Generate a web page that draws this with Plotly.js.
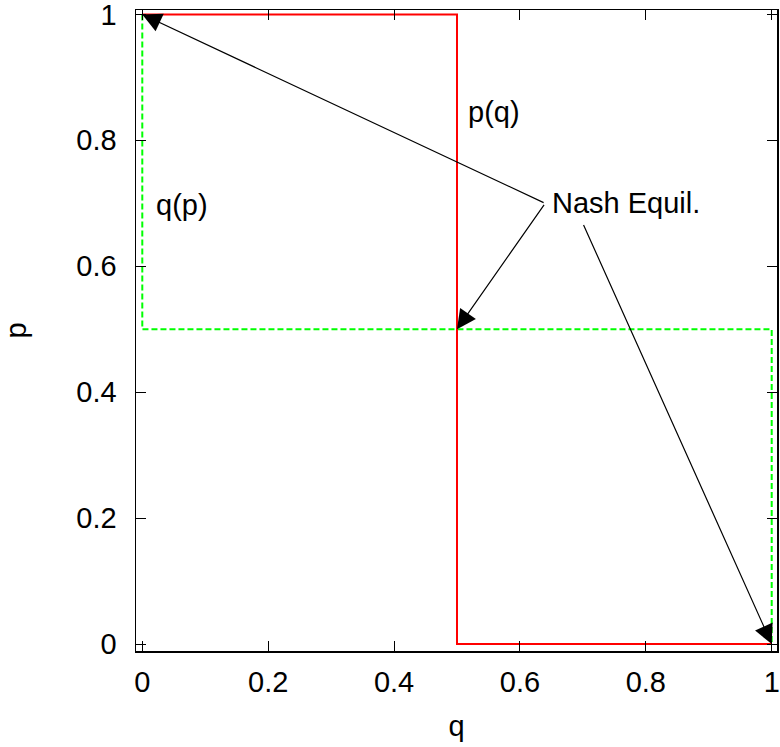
<!DOCTYPE html>
<html>
<head>
<meta charset="utf-8">
<script src="https://cdn.plot.ly/plotly-3.0.1.min.js"></script>
<style>
  html, body { margin: 0; padding: 0; background: #ffffff; }
  #chart { width: 780px; height: 747px; }
</style>
</head>
<body>
<div id="chart"></div>
<script>
// Best response p(q) (red, solid)
const pqQ = [0, 0.5, 0.5, 1];
const pqP = [1, 1, 0, 0];
// Best response q(p) (green, dashed)
const qpQ = [0, 0, 1, 1];
const qpP = [1, 0.5, 0.5, 0];

// Tick values / labels
const xTickVals = [0, 0.2, 0.4, 0.6, 0.8, 1];
const xTickText = ['0', '0.2', '0.4', '0.6', '0.8', '1'];
const yTickVals = [0, 0.2, 0.4, 0.6, 0.8, 1];
const yTickText = ['0', '0.2', '0.4', '0.6', '0.8', '1'];

// Text labels
const labelText = ['p(q)', 'q(p)', 'Nash Equil.'];
const labelX = [0.515, 0.018, 0.647];
const labelY = [0.845, 0.697, 0.700];

// Nash equilibrium arrows: tail -> tip
const arrowTailX = [0.64, 0.64, 0.70];
const arrowTailY = [0.70, 0.70, 0.668];
const arrowTipX = [0, 0.5, 1];
const arrowTipY = [1, 0.5, 0];

const FONT = 'Liberation Sans, Arial, Helvetica, sans-serif';
const FS = 29;

const traces = [
  {
    x: qpQ, y: qpP, type: 'scatter', mode: 'lines', name: 'q(p)',
    line: { color: '#00ff00', width: 2, dash: '6px,3px', shape: 'linear' },
    hoverinfo: 'skip'
  },
  {
    x: pqQ, y: pqP, type: 'scatter', mode: 'lines', name: 'p(q)',
    line: { color: '#ff0000', width: 2, shape: 'linear' },
    hoverinfo: 'skip'
  }
];

const annotations = [];
for (let i = 0; i < labelText.length; i++) {
  annotations.push({
    x: labelX[i], y: labelY[i], xref: 'x', yref: 'y',
    text: labelText[i], showarrow: false,
    xanchor: 'left', yanchor: 'middle',
    font: { family: FONT, size: FS, color: '#000000' }
  });
}
for (let i = 0; i < arrowTipX.length; i++) {
  annotations.push({
    x: arrowTipX[i], y: arrowTipY[i], xref: 'x', yref: 'y',
    ax: arrowTailX[i], ay: arrowTailY[i], axref: 'x', ayref: 'y',
    text: '', showarrow: true,
    arrowhead: 2, arrowsize: 3.2, arrowwidth: 1.2, arrowcolor: '#000000',
    standoff: 0, startstandoff: 0
  });
}

const axisCommon = {
  showgrid: false, zeroline: false,
  showline: true, linecolor: '#000000', linewidth: 1.5, mirror: 'ticks',
  ticks: 'inside', ticklen: 10, tickwidth: 1, tickcolor: '#000000',
  tickfont: { family: FONT, size: FS, color: '#000000' },
  tickmode: 'array',
  ticklabeloverflow: 'allow',
  automargin: false
};

const layout = {
  width: 780, height: 747,
  margin: { l: 136, r: 3, t: 10, b: 96, pad: 0 },
  paper_bgcolor: '#ffffff', plot_bgcolor: '#ffffff',
  showlegend: false,
  font: { family: FONT, size: FS, color: '#000000' },
  xaxis: Object.assign({}, axisCommon, {
    range: [-0.010, 1.0084],
    tickvals: xTickVals, ticktext: xTickText,
    ticklabelstandoff: 5,
    title: { text: 'q', font: { family: FONT, size: FS, color: '#000000' }, standoff: 18 }
  }),
  yaxis: Object.assign({}, axisCommon, {
    range: [-0.011, 1.007],
    tickvals: yTickVals, ticktext: yTickText,
    ticklabelstandoff: 12,
    title: { text: 'p', font: { family: FONT, size: FS, color: '#000000' }, standoff: 42 }
  }),
  annotations: annotations
};

Plotly.newPlot('chart', traces, layout, { displayModeBar: false, staticPlot: true });
</script>
</body>
</html>
